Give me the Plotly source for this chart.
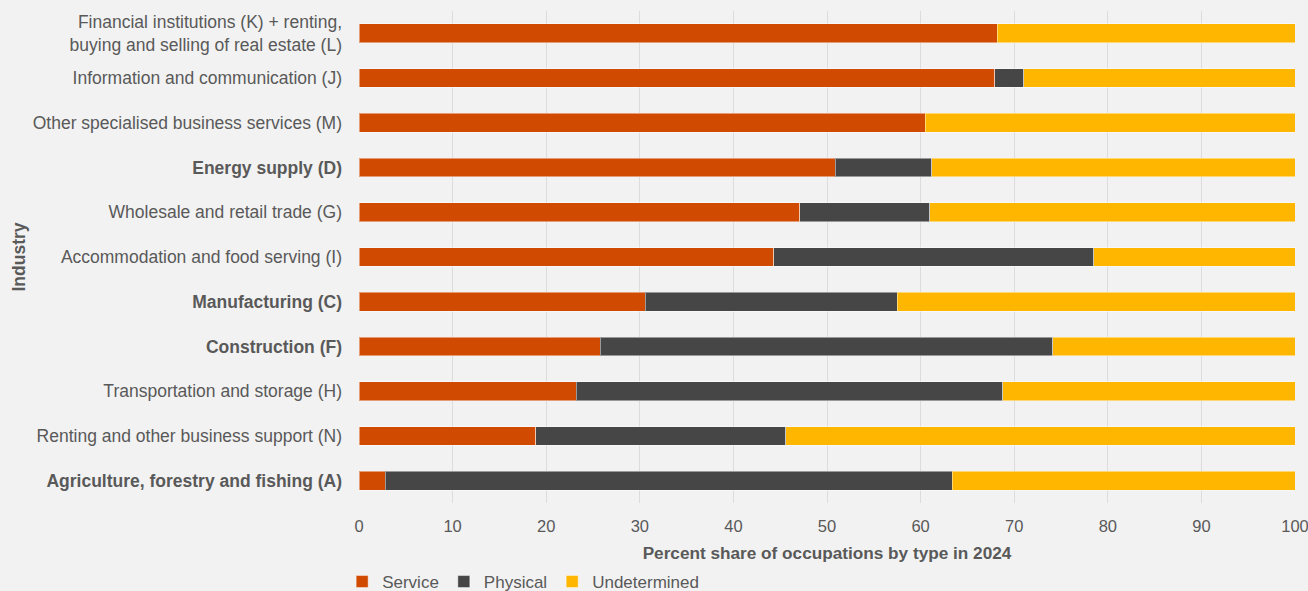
import plotly.graph_objects as go

industries = [
    "Financial institutions (K) + renting,<br>buying and selling of real estate (L)",
    "Information and communication (J)",
    "Other specialised business services (M)",
    "<b>Energy supply (D)</b>",
    "Wholesale and retail trade (G)",
    "Accommodation and food serving (I)",
    "<b>Manufacturing (C)</b>",
    "<b>Construction (F)</b>",
    "Transportation and storage (H)",
    "Renting and other business support (N)",
    "<b>Agriculture, forestry and fishing (A)</b>",
]
service = [68.2, 67.9, 60.5, 50.9, 47.1, 44.3, 30.6, 25.8, 23.2, 18.9, 2.8]
physical = [0.0, 3.1, 0.0, 10.3, 13.9, 34.2, 26.9, 48.3, 45.6, 26.7, 60.6]
undetermined = [31.8, 29.0, 39.5, 38.8, 39.0, 21.5, 42.5, 25.9, 31.2, 54.4, 36.6]

series = [
    ("Service", service, "#d04a02"),
    ("Physical", physical, "#464646"),
    ("Undetermined", undetermined, "#ffb600"),
]

fig = go.Figure()
for name, vals, color in series:
    fig.add_trace(go.Bar(
        y=industries, x=vals, name=name, orientation="h",
        marker=dict(color=color, line=dict(color="rgba(255,255,255,0.45)", width=1)),
    ))

fig.update_layout(
    barmode="stack",
    bargap=0.58,
    width=1308, height=591,
    margin=dict(l=359, r=13, t=11, b=88, autoexpand=False),
    paper_bgcolor="#f2f2f2",
    plot_bgcolor="#f2f2f2",
    font=dict(family="Liberation Sans, Arial, sans-serif", size=17, color="#595959"),
    showlegend=True,
    legend=dict(orientation="h", x=-0.018, xanchor="left", y=-0.124, yanchor="top",
                font=dict(size=17, color="#595959"), bgcolor="rgba(0,0,0,0)",
                traceorder="normal", itemwidth=30),
    xaxis=dict(
        range=[0, 100], dtick=10, showgrid=True, gridcolor="#dcdcdc", gridwidth=1,
        zeroline=False, showline=False, ticks="", ticklabeloverflow="allow",
        tickfont=dict(size=16.5, color="#595959"), ticklabelstandoff=11,
        title=dict(text="<b>Percent share of occupations by type in 2024</b>",
                   font=dict(size=17.2, color="#595959"), standoff=13),
    ),
    yaxis=dict(
        autorange="reversed", showgrid=False, ticks="", showline=False,
        tickfont=dict(size=17.5, color="#595959"), ticklabelstandoff=16,
        title=dict(text="<b>Industry</b>", font=dict(size=17.5, color="#595959"), standoff=2),
    ),
)

fig.write_html("out.html")
